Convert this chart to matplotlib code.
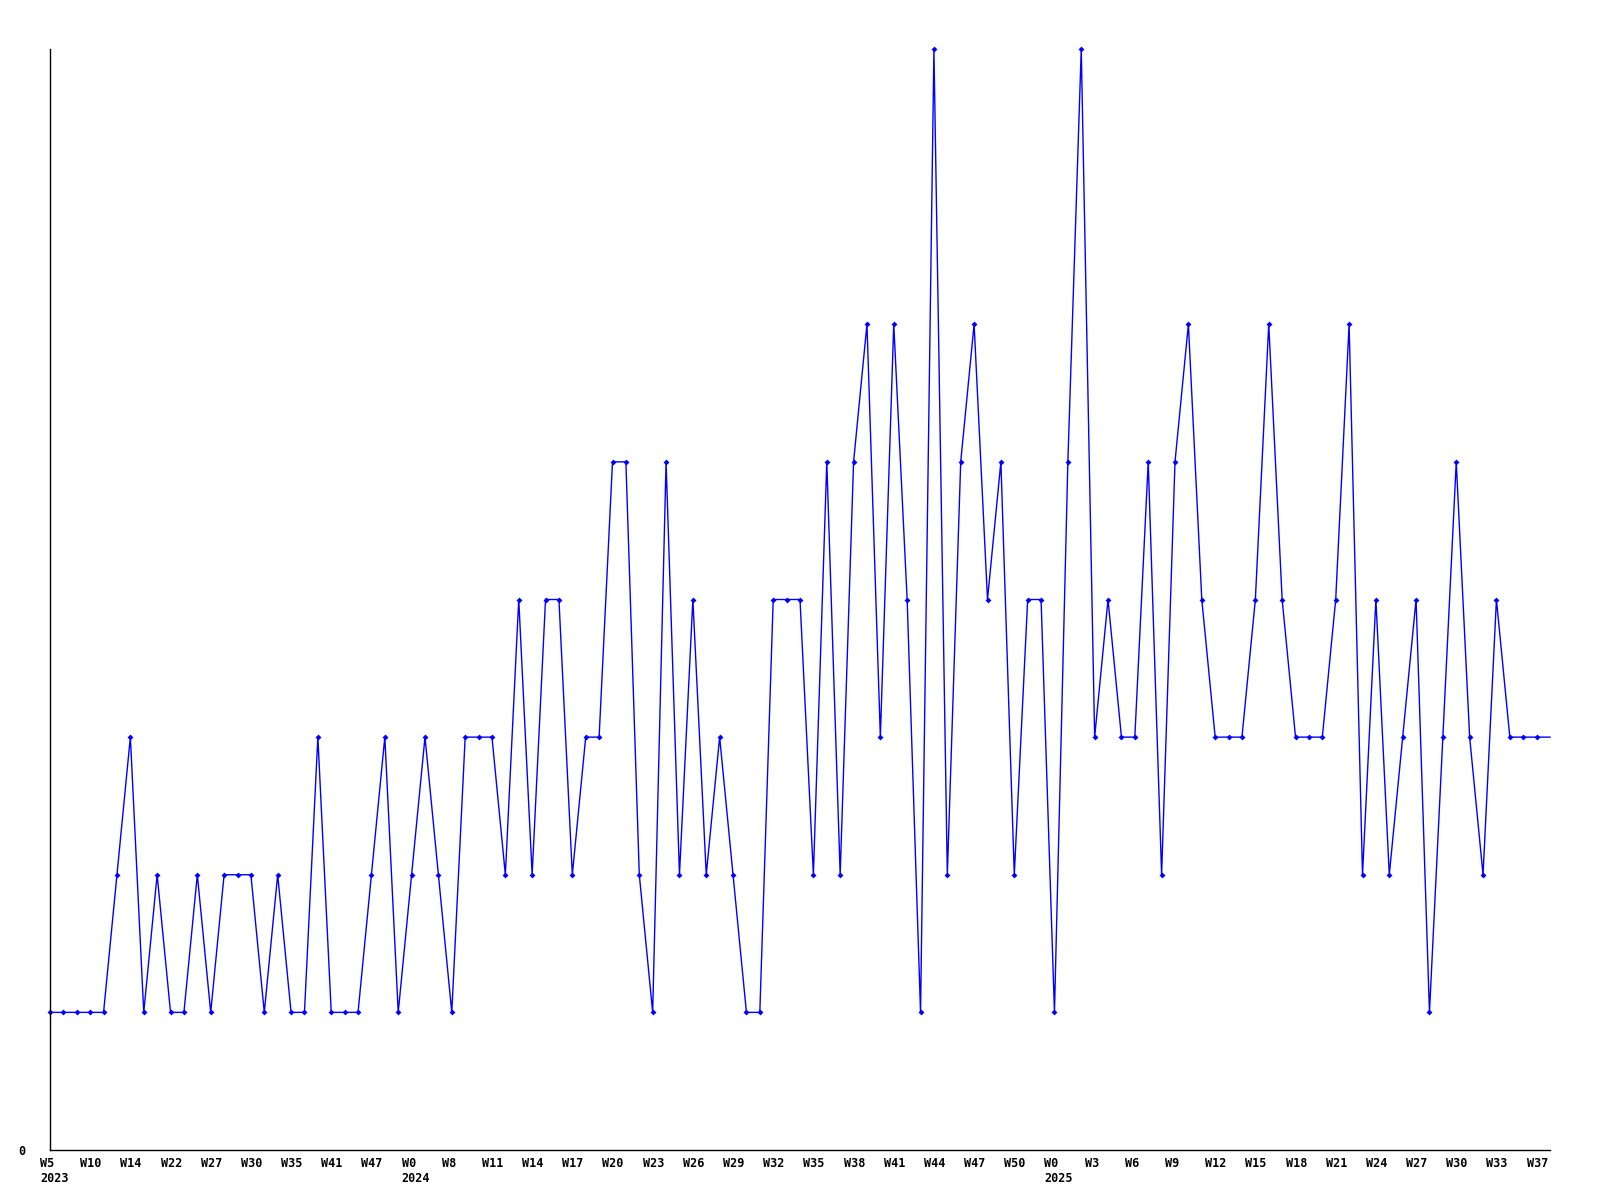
import matplotlib
matplotlib.use("Agg")
import matplotlib.pyplot as plt
from matplotlib.transforms import ScaledTranslation

# weekly values (113 points, last one drawn without marker)
values = [1, 1, 1, 1, 1, 2, 3, 1, 2, 1, 1, 2, 1, 2, 2, 2, 1, 2, 1, 1,
          3, 1, 1, 1, 2, 3, 1, 2, 3, 2, 1, 3, 3, 3, 2, 4, 2, 4, 4, 2,
          3, 3, 5, 5, 2, 1, 5, 2, 4, 2, 3, 2, 1, 1, 4, 4, 4, 2, 5, 2,
          5, 6, 3, 6, 4, 1, 8, 2, 5, 6, 4, 5, 2, 4, 4, 1, 5, 8, 3, 4,
          3, 3, 5, 2, 5, 6, 4, 3, 3, 3, 4, 6, 4, 3, 3, 3, 4, 6, 2, 4,
          2, 3, 4, 1, 3, 5, 3, 2, 4, 3, 3, 3, 3]

# labels shown on every third point
tick_labels = ["W5", "W10", "W14", "W22", "W27", "W30", "W35", "W41", "W47",
               "W0", "W8", "W11", "W14", "W17", "W20", "W23", "W26", "W29",
               "W32", "W35", "W38", "W41", "W44", "W47", "W50", "W0", "W3",
               "W6", "W9", "W12", "W15", "W18", "W21", "W24", "W27", "W30",
               "W33", "W37"]
year_labels = {0: "2023", 27: "2024", 75: "2025"}  # point index -> year
tick_step = 3

W, H = 1600, 1200
DPI = 100
fig = plt.figure(figsize=(16, 12), dpi=DPI)
fig.patch.set_facecolor("white")
left, right, top, bottom = 50, 1550, 49, 1150
ax = fig.add_axes([left / W, 1 - bottom / H, (right - left) / W, (bottom - top) / H])

x = list(range(len(values)))
ax.plot(x, values, color="#0000ff", lw=1.0, marker="D", ms=3, mew=0,
        markevery=list(range(len(values) - 1)), clip_on=False)

ax.set_xlim(0, len(values) - 1)
ax.set_ylim(0, 8)

font = dict(family="DejaVu Sans Mono", weight="bold", size=8.5)

ticks = [i * tick_step for i in range(len(tick_labels))]
ax.set_xticks(ticks)
ax.set_xticklabels([""] * len(ticks))
ax.tick_params(axis="x", length=0)

base = ax.get_xaxis_transform()
row1 = base + ScaledTranslation(-10 / DPI, -7 / DPI, fig.dpi_scale_trans)
row2 = base + ScaledTranslation(-10 / DPI, -22 / DPI, fig.dpi_scale_trans)
for t, lab in zip(ticks, tick_labels):
    ax.text(t, 0, lab, transform=row1, ha="left", va="top", **font)
    if t in year_labels:
        ax.text(t, 0, year_labels[t], transform=row2, ha="left", va="top", **font)

ax.set_yticks([0])
ax.set_yticklabels(["0"], fontfamily=font["family"], fontweight=font["weight"],
                   fontsize=font["size"])
ax.tick_params(axis="y", length=0, pad=18)

for s in ("top", "right"):
    ax.spines[s].set_visible(False)
for s in ("left", "bottom"):
    ax.spines[s].set_color("black")
    ax.spines[s].set_linewidth(1.0)

fig.savefig("out.png", dpi=DPI, facecolor="white")
